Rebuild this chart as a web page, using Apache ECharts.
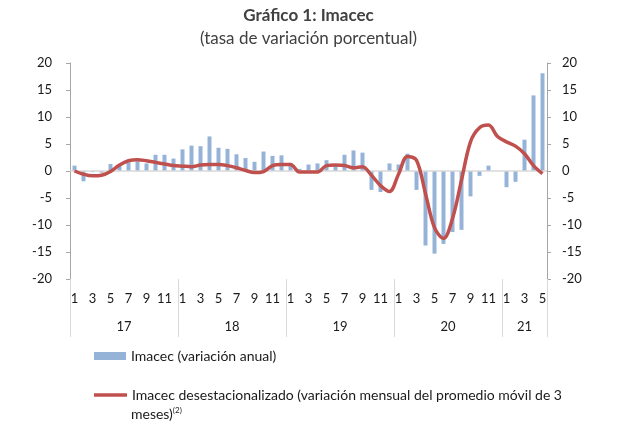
<!DOCTYPE html>
<html>
<head>
<meta charset="utf-8">
<script src="https://cdn.jsdelivr.net/npm/echarts@6/dist/echarts.min.js"></script>
<style>
html,body{margin:0;padding:0;background:#fff;}
#chart{width:617px;height:431px;}
</style>
</head>
<body>
<div id="chart"></div>
<script>
var monthLabels = [
  '1','2','3','4','5','6','7','8','9','10','11','12',
  '1','2','3','4','5','6','7','8','9','10','11','12',
  '1','2','3','4','5','6','7','8','9','10','11','12',
  '1','2','3','4','5','6','7','8','9','10','11','12',
  '1','2','3','4','5'
];
var yearLabels = ['17','18','19','20','21'];
var yearBounds = [0, 12, 24, 36, 48, 53];
var yTicks = [-20, -15, -10, -5, 0, 5, 10, 15, 20];

var imacecAnual = [
  1.0, -1.9, -0.2, -0.3, 1.3, 1.0, 1.6, 1.8, 1.4, 3.0, 3.0, 2.3,
  4.0, 4.7, 4.6, 6.4, 4.3, 4.1, 3.1, 2.4, 1.7, 3.6, 2.8, 2.9,
  1.5, 0.4, 1.2, 1.4, 2.0, 0.9, 3.0, 3.8, 3.4, -3.5, -3.9, 1.4,
  1.2, 3.2, -3.5, -13.8, -15.3, -13.5, -11.3, -10.9, -4.7, -0.9, 1.0, 0.0,
  -3.0, -2.0, 5.8, 14.0, 18.1
];
var imacecDesest = [
  0.0, -0.6, -0.9, -0.8, -0.1, 1.1, 1.9, 2.1, 1.9, 1.6, 1.3, 1.0,
  0.9, 0.8, 1.1, 1.2, 1.2, 1.0, 0.6, 0.1, -0.3, -0.1, 1.0, 1.2,
  1.2, -0.2, -0.2, -0.2, 1.0, 1.1, 1.0, 0.6, 0.8, -0.8, -2.7, -3.8,
  -0.6, 2.7, 2.0, -4.2, -10.5, -12.5, -8.8, -1.7, 5.4, 8.0, 8.5, 6.4,
  5.4, 4.6, 3.2, 1.0, -0.5
];

var yearMid = [];
for (var i = 0; i < yearLabels.length; i++) yearMid.push((yearBounds[i] + yearBounds[i + 1]) / 2);

var FONT = 'Lato, "Open Sans", sans-serif';
var TXT = '#1a1a1a';
var chart = echarts.init(document.getElementById('chart'), null, {renderer: 'canvas'});

function yAxisCfg(pos, margin) {
  return {
    type: 'value', position: pos,
    min: yTicks[0], max: yTicks[yTicks.length - 1], interval: yTicks[1] - yTicks[0],
    axisLine: {show: true, onZero: false, lineStyle: {color: '#a6a6a6', width: 1}},
    axisTick: {show: true, length: 4, lineStyle: {color: '#a6a6a6'}},
    splitLine: {show: false},
    axisLabel: {color: TXT, fontSize: 13, fontFamily: FONT, margin: margin}
  };
}

chart.setOption({
  animation: false,
  title: [{
    text: 'Gráfico 1: Imacec',
    left: 'center', top: 2,
    textStyle: {fontFamily: FONT, fontSize: 17, fontWeight: 'bold', color: '#404040'}
  }, {
    text: '(tasa de variación porcentual)',
    left: 'center', top: 25,
    textStyle: {fontFamily: FONT, fontSize: 17, fontWeight: 'normal', color: '#404040'}
  }],
  grid: {left: 70, right: 70, top: 63, bottom: 152, containLabel: false},
  xAxis: [{
    type: 'category', data: monthLabels, position: 'bottom',
    axisLine: {show: false, onZero: false}, axisTick: {show: false},
    axisLabel: {interval: 1, color: TXT, fontSize: 13, fontFamily: FONT, margin: 13}
  }, {
    type: 'value', position: 'bottom',
    min: yearBounds[0], max: yearBounds[yearBounds.length - 1],
    axisLine: {show: false, onZero: false},
    splitLine: {show: false},
    axisTick: {
      show: true, length: 58, inside: false,
      customValues: yearBounds,
      lineStyle: {color: '#d9d9d9', width: 1}
    },
    axisLabel: {
      margin: 41, fontSize: 13, fontFamily: FONT, color: TXT,
      customValues: yearMid,
      formatter: function (v) {
        var k = yearMid.indexOf(v);
        return k < 0 ? '' : yearLabels[k];
      }
    }
  }],
  yAxis: [yAxisCfg('left', 18), yAxisCfg('right', 15)],
  legend: [{
    data: [{name: 'Imacec (variación anual)', icon: 'rect'}],
    left: 94, top: 348, padding: 0,
    itemWidth: 32, itemHeight: 8, itemGap: 5,
    textStyle: {fontFamily: FONT, fontSize: 14, color: TXT, lineHeight: 16}
  }, {
    data: [{name: 'Imacec desestacionalizado (variación mensual del promedio móvil de 3', icon: 'rect'}],
    left: 94, top: 387, padding: 0,
    itemWidth: 33, itemHeight: 3.5,
    textStyle: {fontFamily: FONT, fontSize: 14, color: TXT, lineHeight: 16}
  }],
  graphic: [{
    type: 'text', left: 131, top: 406,
    style: {
      text: '{a|meses)}{s|(2)}',
      rich: {
        a: {fontFamily: FONT, fontSize: 14, fill: TXT, lineHeight: 16},
        s: {fontFamily: FONT, fontSize: 8, fill: TXT, verticalAlign: 'top', lineHeight: 16, padding: [0, 0, 7, 0]}
      }
    }
  }],
  series: [{
    name: 'Imacec (variación anual)',
    type: 'bar', xAxisIndex: 0, yAxisIndex: 0,
    data: imacecAnual, barWidth: 4,
    itemStyle: {color: '#95b3d7'},
    markLine: {
      silent: true, symbol: ['none', 'none'], label: {show: false},
      lineStyle: {color: '#d9d9d9', width: 1.5, type: 'solid'},
      data: [{yAxis: 0}]
    }
  }, {
    name: 'Imacec desestacionalizado (variación mensual del promedio móvil de 3',
    type: 'line', xAxisIndex: 0, yAxisIndex: 1,
    data: imacecDesest, smooth: 0.35, showSymbol: false, symbol: 'none',
    lineStyle: {color: '#c0504d', width: 3.5},
    itemStyle: {color: '#c0504d'},
    z: 5
  }]
});
</script>
</body>
</html>
